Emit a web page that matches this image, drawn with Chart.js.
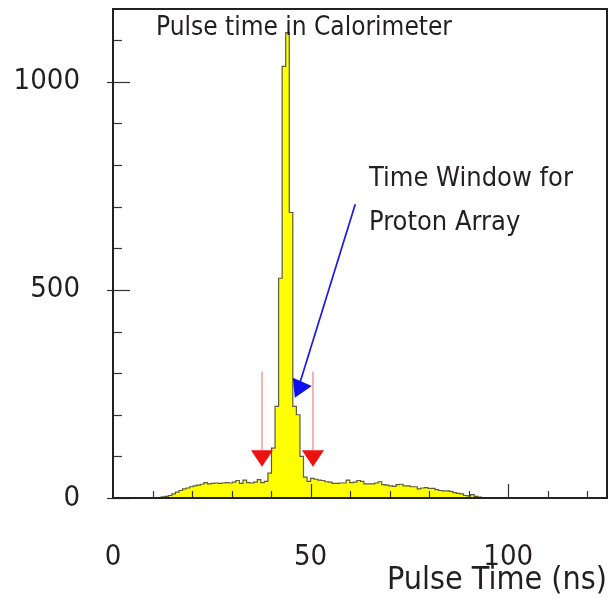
<!DOCTYPE html>
<html><head><meta charset="utf-8">
<script src="https://cdn.jsdelivr.net/npm/chart.js@4/dist/chart.umd.min.js"></script>
<style>html,body{margin:0;padding:0;background:#fff;}#wrap{width:609px;height:599px;}</style>
</head><body><div id="wrap"><canvas id="c" width="609" height="599"></canvas></div>
<script>
// ---- data ----
const binStart = 0.5;      // ns, left edge of bin 0
const binWidth = 0.9;      // ns
const firstBin = 12;       // index of first listed bin
const counts = [0,3,4,6,10,14,18,22,24,27,29,31,33,37,34,35,36,35,36,37,36,38,42,35,43,37,36,38,44,37,40,
  60,120,220,528,1037,1118,686,220,200,100,50,
  40,47,45,43,42,39,38,35,35,36,36,43,37,38,42,40,34,34,34,36,39,32,31,29,28,32,33,29,29,27,27,22,24,25,23,23,20,18,17,17,16,13,11,10,6,5,8,4,2,0];
const xTickLabels = [0, 50, 100];
const yTickLabels = [0, 500, 1000];
const xRange = [0, 125];
const yRange = [0, 1175];
// annotations (data coordinates)
const redArrowX = [37.7, 50.6];
const redArrowY = [304, 115, 75];      // line top, head top, tip
const blueArrowLine = [[61.3, 706], [47.3, 277]];
const blueArrowHead = [[45.5, 289], [50.3, 269], [46.0, 241]];
const titleText = 'Pulse time in Calorimeter';
const noteLines = ['Time Window for', 'Proton Array'];

const FONT = "'DejaVu Sans Condensed','DejaVu Sans',sans-serif";
const TXT = '#231f20';

const pts = counts.map((v, i) => ({x: binStart + (firstBin + i) * binWidth, y: v}));
pts.push({x: binStart + (firstBin + counts.length) * binWidth, y: 0});

const deco = {
  id: 'deco',
  afterDatasetsDraw(chart) {
    const {ctx, chartArea: a, scales: {x, y}} = chart;
    ctx.save();
    // ticks (inward)
    ctx.strokeStyle = '#333'; ctx.lineWidth = 1.2;
    for (let v = 0; v <= 1100; v += 100) {
      const py = Math.round(y.getPixelForValue(v)) + 0.5;
      const major = v % 500 === 0;
      ctx.beginPath();
      ctx.moveTo(a.left - (major ? 6 : 0), py);
      ctx.lineTo(a.left + (major ? 17 : 9), py);
      ctx.stroke();
    }
    for (let v = 10; v <= 120; v += 10) {
      const px = Math.round(x.getPixelForValue(v)) + 0.5;
      const major = v % 50 === 0;
      ctx.beginPath();
      ctx.moveTo(px, a.bottom);
      ctx.lineTo(px, a.bottom - (major ? 14 : 7));
      ctx.stroke();
    }
    // frame
    ctx.strokeStyle = '#222'; ctx.lineWidth = 2;
    ctx.strokeRect(a.left, a.top, a.right - a.left, a.bottom - a.top);
    // red arrows
    redArrowX.forEach(xv => {
      const px = x.getPixelForValue(xv);
      ctx.strokeStyle = '#f08080'; ctx.lineWidth = 1.2;
      ctx.beginPath();
      ctx.moveTo(px, y.getPixelForValue(redArrowY[0]));
      ctx.lineTo(px, y.getPixelForValue(redArrowY[1]));
      ctx.stroke();
      ctx.fillStyle = '#ee1111';
      ctx.beginPath();
      ctx.moveTo(px - 11, y.getPixelForValue(redArrowY[1]));
      ctx.lineTo(px + 11, y.getPixelForValue(redArrowY[1]));
      ctx.lineTo(px, y.getPixelForValue(redArrowY[2]));
      ctx.closePath(); ctx.fill();
    });
    // blue arrow
    ctx.strokeStyle = '#1a1ae6'; ctx.lineWidth = 1.7;
    ctx.beginPath();
    ctx.moveTo(x.getPixelForValue(blueArrowLine[0][0]), y.getPixelForValue(blueArrowLine[0][1]));
    ctx.lineTo(x.getPixelForValue(blueArrowLine[1][0]), y.getPixelForValue(blueArrowLine[1][1]));
    ctx.stroke();
    ctx.fillStyle = '#1010ee';
    ctx.beginPath();
    blueArrowHead.forEach((p, i) => {
      const px = x.getPixelForValue(p[0]), py = y.getPixelForValue(p[1]);
      if (i === 0) ctx.moveTo(px, py); else ctx.lineTo(px, py);
    });
    ctx.closePath(); ctx.fill();
    // texts
    ctx.fillStyle = TXT; ctx.textAlign = 'left'; ctx.textBaseline = 'alphabetic';
    ctx.font = "26px " + FONT;
    ctx.fillText(titleText, 156, 35);
    ctx.font = "27px " + FONT;
    ctx.fillText(noteLines[0], 369, 186);
    ctx.fillText(noteLines[1], 369, 230);
    ctx.restore();
  }
};

new Chart(document.getElementById('c'), {
  type: 'line',
  data: { datasets: [{
    data: pts,
    stepped: true,
    fill: 'origin',
    backgroundColor: '#ffff00',
    borderColor: '#5c5c3c',
    borderWidth: 1.2,
    pointRadius: 0,
    tension: 0
  }]},
  options: {
    responsive: false,
    animation: false,
    devicePixelRatio: 1,
    layout: { padding: { top: 9, right: 2, left: 0, bottom: 0 } },
    plugins: { legend: { display: false }, tooltip: { enabled: false }, title: { display: false } },
    scales: {
      x: {
        type: 'linear', min: xRange[0], max: xRange[1],
        grid: { display: false }, border: { display: false },
        afterBuildTicks: s => { s.ticks = xTickLabels.map(v => ({value: v})); },
        ticks: { maxRotation: 0, autoSkip: false, padding: 34, color: TXT,
                 font: { family: FONT, size: 29 }, callback: v => String(v) },
        title: { display: true, text: 'Pulse Time (ns)', align: 'end', color: TXT,
                 font: { family: FONT, size: 32, lineHeight: 1.0 }, padding: { top: 0, bottom: 2 } },
        afterFit: s => { s.height = 101; s.paddingLeft = 0; s.paddingRight = 0; }
      },
      y: {
        type: 'linear', min: yRange[0], max: yRange[1],
        grid: { display: false }, border: { display: false },
        afterBuildTicks: s => { s.ticks = yTickLabels.map(v => ({value: v})); },
        ticks: { autoSkip: false, padding: 25, color: TXT,
                 font: { family: FONT, size: 29 }, callback: v => String(v) },
        afterFit: s => { s.width = 113; s.paddingTop = 0; s.paddingBottom = 0; }
      }
    }
  },
  plugins: [deco]
});
</script></body></html>
